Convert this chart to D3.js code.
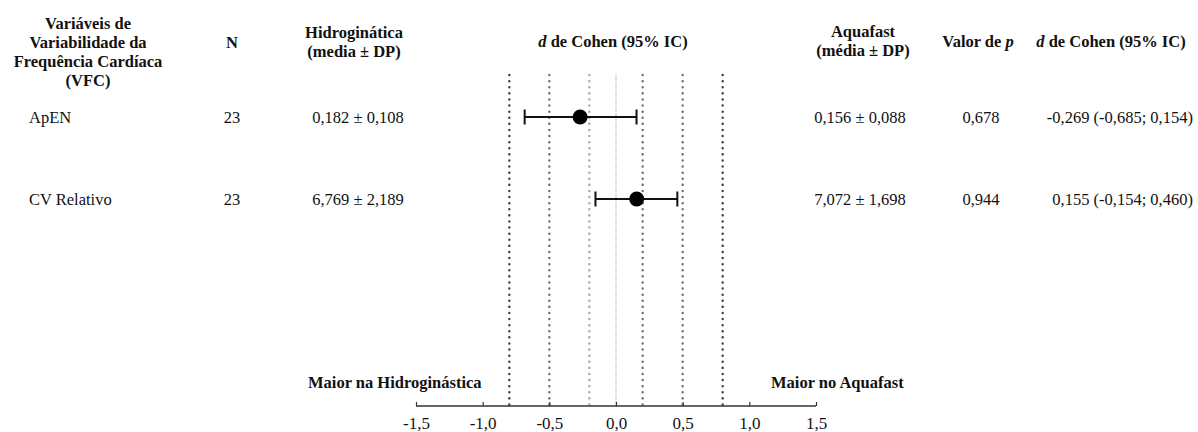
<!DOCTYPE html>
<html>
<head>
<meta charset="utf-8">
<script src="https://cdn.jsdelivr.net/npm/d3@7"></script>
<style>
  html, body { margin: 0; padding: 0; background: #fff; }
  svg { display: block; font-family: "Liberation Serif", "Times New Roman", serif; }
  .hdr { font-weight: bold; font-size: 16.5px; fill: #111; }
  .cell { font-size: 16.5px; fill: #111; }
</style>
</head>
<body>
<div id="app"></div>
<script>
// table values
const variables = ['ApEN', 'CV Relativo'];
const nValues = [23, 23];
const hidroText = ['0,182 ± 0,108', '6,769 ± 2,189'];
const aquaText = ['0,156 ± 0,088', '7,072 ± 1,698'];
const pValues = ['0,678', '0,944'];
const dValues = [-0.269, 0.155];
const ciLow = [-0.685, -0.154];
const ciHigh = [0.154, 0.460];

const refLines = [-0.8, -0.5, -0.2, 0, 0.2, 0.5, 0.8];
const tickValues = [-1.5, -1.0, -0.5, 0, 0.5, 1.0, 1.5];

const width = 1198, height = 432;
const ptLocale = d3.formatLocale({decimal: ',', thousands: '.', grouping: [3], currency: ['', ''], minus: '-'});
const f1 = ptLocale.format('.1f');
const f3 = ptLocale.format('.3f');

const svg = d3.select('#app').append('svg')
  .attr('width', width)
  .attr('height', height);

const x = d3.scaleLinear().domain([-1.5, 1.5]).range([416, 816]);
const y = d3.scalePoint().domain(variables).range([117, 199]);
const axisY = 406;

// reference lines (dotted)
const lineStyle = {
  '-0.8': {c: '#3f3f3f', w: 2.4, dash: '0.1,6'},
  '-0.5': {c: '#6f6f6f', w: 2.4, dash: '0.1,6'},
  '-0.2': {c: '#a8a8a8', w: 2.4, dash: '0.1,6'},
  '0':    {c: '#999', w: 1, dash: '1,1'},
  '0.2':  {c: '#6f6f6f', w: 2.4, dash: '0.1,6'},
  '0.5':  {c: '#6f6f6f', w: 2.4, dash: '0.1,6'},
  '0.8':  {c: '#3f3f3f', w: 2.4, dash: '0.1,6'}
};
svg.append('g').selectAll('line').data(refLines).enter()
  .append('line')
  .attr('x1', d => x(d)).attr('x2', d => x(d))
  .attr('y1', 75).attr('y2', axisY)
  .attr('stroke', d => lineStyle[String(d)].c)
  .attr('stroke-width', d => lineStyle[String(d)].w)
  .attr('stroke-linecap', d => d === 0 ? 'butt' : 'round')
  .attr('stroke-dasharray', d => lineStyle[String(d)].dash);

// axis
const axis = d3.axisBottom(x).tickValues(tickValues).tickFormat(f1).tickSize(-4).tickPadding(10);
const gAxis = svg.append('g').attr('transform', `translate(0,${axisY})`).call(axis);
gAxis.select('.domain').attr('stroke', '#333').attr('stroke-width', 1.4).attr('d', `M${x(-1.5)},0H${x(1.5)}`);
gAxis.selectAll('.tick line').attr('stroke', '#333').attr('stroke-width', 1.2);
gAxis.selectAll('.tick text')
  .attr('font-family', '"Liberation Serif", serif')
  .attr('font-size', 17).attr('fill', '#111')
  .attr('dy', '0.75em');

// error bars
const rows = variables.map((v, i) => ({v, i}));
const bars = svg.append('g').selectAll('g').data(rows).enter().append('g');
bars.append('line')
  .attr('x1', d => x(ciLow[d.i])).attr('x2', d => x(ciHigh[d.i]))
  .attr('y1', d => y(d.v)).attr('y2', d => y(d.v))
  .attr('stroke', '#111').attr('stroke-width', 2);
[ciLow, ciHigh].forEach(arr => {
  bars.append('line')
    .attr('x1', d => x(arr[d.i])).attr('x2', d => x(arr[d.i]))
    .attr('y1', d => y(d.v) - 7.5).attr('y2', d => y(d.v) + 7.5)
    .attr('stroke', '#111').attr('stroke-width', 2);
});
bars.append('circle')
  .attr('cx', d => x(dValues[d.i])).attr('cy', d => y(d.v))
  .attr('r', 7.5).attr('fill', '#000');

// headers
function multiline(lines, cx, y0, step) {
  const t = svg.append('text').attr('class', 'hdr').attr('text-anchor', 'middle');
  lines.forEach((l, k) => {
    t.append('tspan').attr('x', cx).attr('y', y0 + k * step).text(l);
  });
  return t;
}
multiline(['Variáveis de', 'Variabilidade da', 'Frequência Cardíaca', '(VFC)'], 88, 29, 19);
multiline(['N'], 232, 48, 0);
multiline(['Hidroginática', '(media ± DP)'], 354, 38, 19);
multiline(['Aquafast', '(média ± DP)'], 863, 37, 19);

function italicPart(cx, yy, before, it, after) {
  const t = svg.append('text').attr('class', 'hdr').attr('text-anchor', 'middle')
    .attr('x', cx).attr('y', yy);
  if (before) t.append('tspan').text(before);
  t.append('tspan').attr('font-style', 'italic').text(it);
  if (after) t.append('tspan').text(after);
}
italicPart(613, 47, '', 'd', ' de Cohen (95% IC)');
italicPart(978, 47, 'Valor de ', 'p', '');
italicPart(1111, 47, '', 'd', ' de Cohen (95% IC)');

// table cells
const cells = svg.append('g').selectAll('g').data(rows).enter().append('g')
  .attr('transform', d => `translate(0,${y(d.v) + 6})`);
cells.append('text').attr('class', 'cell').attr('x', 29).text(d => d.v);
cells.append('text').attr('class', 'cell').attr('x', 232).attr('text-anchor', 'middle').text(d => nValues[d.i]);
cells.append('text').attr('class', 'cell').attr('x', 358).attr('text-anchor', 'middle').text(d => hidroText[d.i]);
cells.append('text').attr('class', 'cell').attr('x', 860).attr('text-anchor', 'middle').text(d => aquaText[d.i]);
cells.append('text').attr('class', 'cell').attr('x', 981).attr('text-anchor', 'middle').text(d => pValues[d.i]);
cells.append('text').attr('class', 'cell').attr('x', 1193).attr('text-anchor', 'end')
  .text(d => `${f3(dValues[d.i])} (${f3(ciLow[d.i])}; ${f3(ciHigh[d.i])})`);

// direction labels
svg.append('text').attr('class', 'hdr').attr('x', 308).attr('y', 388).text('Maior na Hidroginástica');
svg.append('text').attr('class', 'hdr').attr('x', 771).attr('y', 388).text('Maior no Aquafast');
</script>
</body>
</html>
